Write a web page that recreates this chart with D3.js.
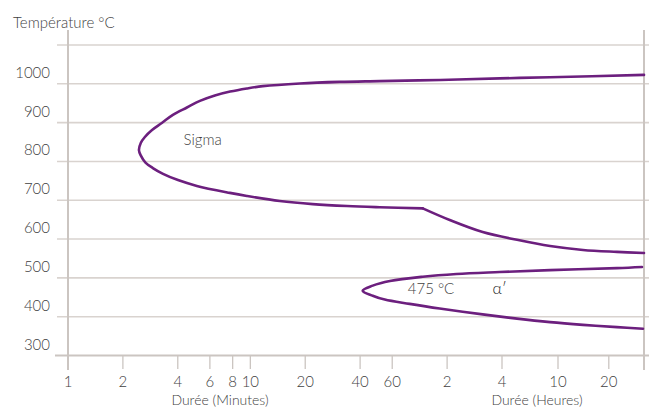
<!DOCTYPE html>
<html>
<head>
<meta charset="utf-8">
<script src="https://cdn.jsdelivr.net/npm/d3@7"></script>
<style>
  body { margin: 0; background: #fff; }
  svg text { font-family: Lato, "Open Sans", sans-serif; font-weight: 300; }
</style>
</head>
<body>
<svg id="chart" width="649" height="410"></svg>
<script>
// Temperature ticks (°C) and grid levels
const tempLabels = [300, 400, 500, 600, 700, 800, 900, 1000];
const gridTemps = [400, 500, 600, 700, 800, 900, 1000, 1100];

// Time ticks: minutes, then hours (expressed in minutes for the scale)
const minuteTicks = [1, 2, 4, 6, 8, 10, 20, 40, 60];
const hourTicks = [2, 4, 10, 20];

// Sigma precipitation curve (time in minutes, temperature in °C)
const sigmaTime = [1940, 527, 233, 110, 51.2, 30.9, 18.7, 11.71, 9.57, 7.75, 6.39, 5.29, 4.49, 3.76, 3.27,
                   2.89, 2.64, 2.51, 2.45, 2.51, 2.66, 2.92, 3.32, 4.01, 5.09, 7.72, 9.57, 14.5, 22.0, 33.9, 51.2, 88.2,
                   124, 188, 307, 527, 844, 1342, 1940];
const sigmaTemp = [1023, 1017, 1014, 1010, 1007, 1005, 1001, 994, 988, 980, 970, 956, 939, 920, 899,
                   881, 863, 848, 829, 815, 797, 783, 768, 752, 737, 719, 711, 698, 690, 685, 682, 679,
                   649, 618, 598, 582, 572, 567, 564];
// The sigma boundary turns sharply at this point (index into the arrays above)
const sigmaBreak = 31;

// α′ (475 °C embrittlement) curve
const alphaTime = [1888, 1342, 527, 233, 135, 88.2, 58.3, 46.9, 41.3, 46.9, 54.6, 74.8, 109.2, 188, 307, 527, 844, 1342, 1913];
const alphaTemp = [528, 525, 520, 515, 510, 503, 492, 480, 467, 454, 444, 433, 421, 406, 395, 386, 379, 373, 369];

const svg = d3.select("#chart");
const gridColor = "#d9d3cf";
const axisColor = "#cbc5c1";
const curveColor = "#6c1f7e";
const textColor = "#3f3f3f";

// Broken logarithmic time axis: minutes on the left, hours on the right
const x = d3.scaleLog().domain([1, 240, 600, 1940]).range([68, 502, 558, 644]);
const y = d3.scaleLinear().domain([300, 1100]).range([355.5, 45]);

// Horizontal grid
svg.append("g").selectAll("line").data(gridTemps).join("line")
  .attr("x1", 57).attr("x2", 649)
  .attr("y1", d => y(d)).attr("y2", d => y(d))
  .attr("stroke", gridColor).attr("stroke-width", 1.6);

// Baseline
svg.append("line").attr("x1", 55).attr("x2", 649)
  .attr("y1", y(300)).attr("y2", y(300))
  .attr("stroke", axisColor).attr("stroke-width", 2);

// Vertical frame lines
[1, 1940].forEach(v => {
  svg.append("line").attr("x1", x(v)).attr("x2", x(v))
    .attr("y1", 30).attr("y2", 370)
    .attr("stroke", axisColor).attr("stroke-width", 2);
});

// Y labels, sitting just above their grid lines
svg.append("g").selectAll("text").data(tempLabels).join("text")
  .attr("x", 50).attr("y", d => y(d) - 6)
  .attr("text-anchor", "end")
  .attr("font-size", 15).attr("fill", textColor)
  .text(d => d);

svg.append("text").attr("x", 13).attr("y", 28)
  .attr("font-size", 15).attr("fill", textColor)
  .text("Température °C");

// X ticks
const xTicks = minuteTicks.map(m => ({v: m, label: m}))
  .concat(hourTicks.map(h => ({v: h * 60, label: h})));

const tickG = svg.append("g");
tickG.selectAll("line").data(xTicks.filter(d => d.v !== 1)).join("line")
  .attr("x1", d => x(d.v)).attr("x2", d => x(d.v))
  .attr("y1", y(300)).attr("y2", 369)
  .attr("stroke", axisColor).attr("stroke-width", 1.3);
tickG.selectAll("text").data(xTicks).join("text")
  .attr("x", d => x(d.v)).attr("y", 387)
  .attr("text-anchor", "middle")
  .attr("font-size", 15).attr("fill", textColor)
  .text(d => d.label);

svg.append("text").attr("x", 220).attr("y", 405)
  .attr("text-anchor", "middle").attr("font-size", 14).attr("fill", textColor)
  .text("Durée (Minutes)");
svg.append("text").attr("x", 537).attr("y", 405)
  .attr("text-anchor", "middle").attr("font-size", 14).attr("fill", textColor)
  .text("Durée (Heures)");

// Curves
const line = d3.line()
  .x(d => x(d[0])).y(d => y(d[1]))
  .curve(d3.curveCatmullRom.alpha(0.5));

const sigma = d3.zip(sigmaTime, sigmaTemp);
const curves = [
  sigma.slice(0, sigmaBreak + 1),
  sigma.slice(sigmaBreak),
  d3.zip(alphaTime, alphaTemp)
];

svg.append("g").selectAll("path").data(curves).join("path")
  .attr("d", line).attr("fill", "none")
  .attr("stroke", curveColor).attr("stroke-width", 2.6)
  .attr("stroke-linejoin", "round").attr("stroke-linecap", "round");

// Region labels
svg.append("text").attr("x", x(4.3)).attr("y", y(853))
  .attr("dominant-baseline", "middle")
  .attr("font-size", 15).attr("fill", textColor).text("Sigma");
svg.append("text").attr("x", x(73)).attr("y", y(469))
  .attr("dominant-baseline", "middle")
  .attr("font-size", 15).attr("fill", textColor).text("475 °C");
svg.append("text").attr("x", x(213)).attr("y", y(469))
  .attr("dominant-baseline", "middle")
  .attr("font-size", 16).attr("font-weight", 600).attr("fill", "#222").text("α′");
</script>
</body>
</html>
